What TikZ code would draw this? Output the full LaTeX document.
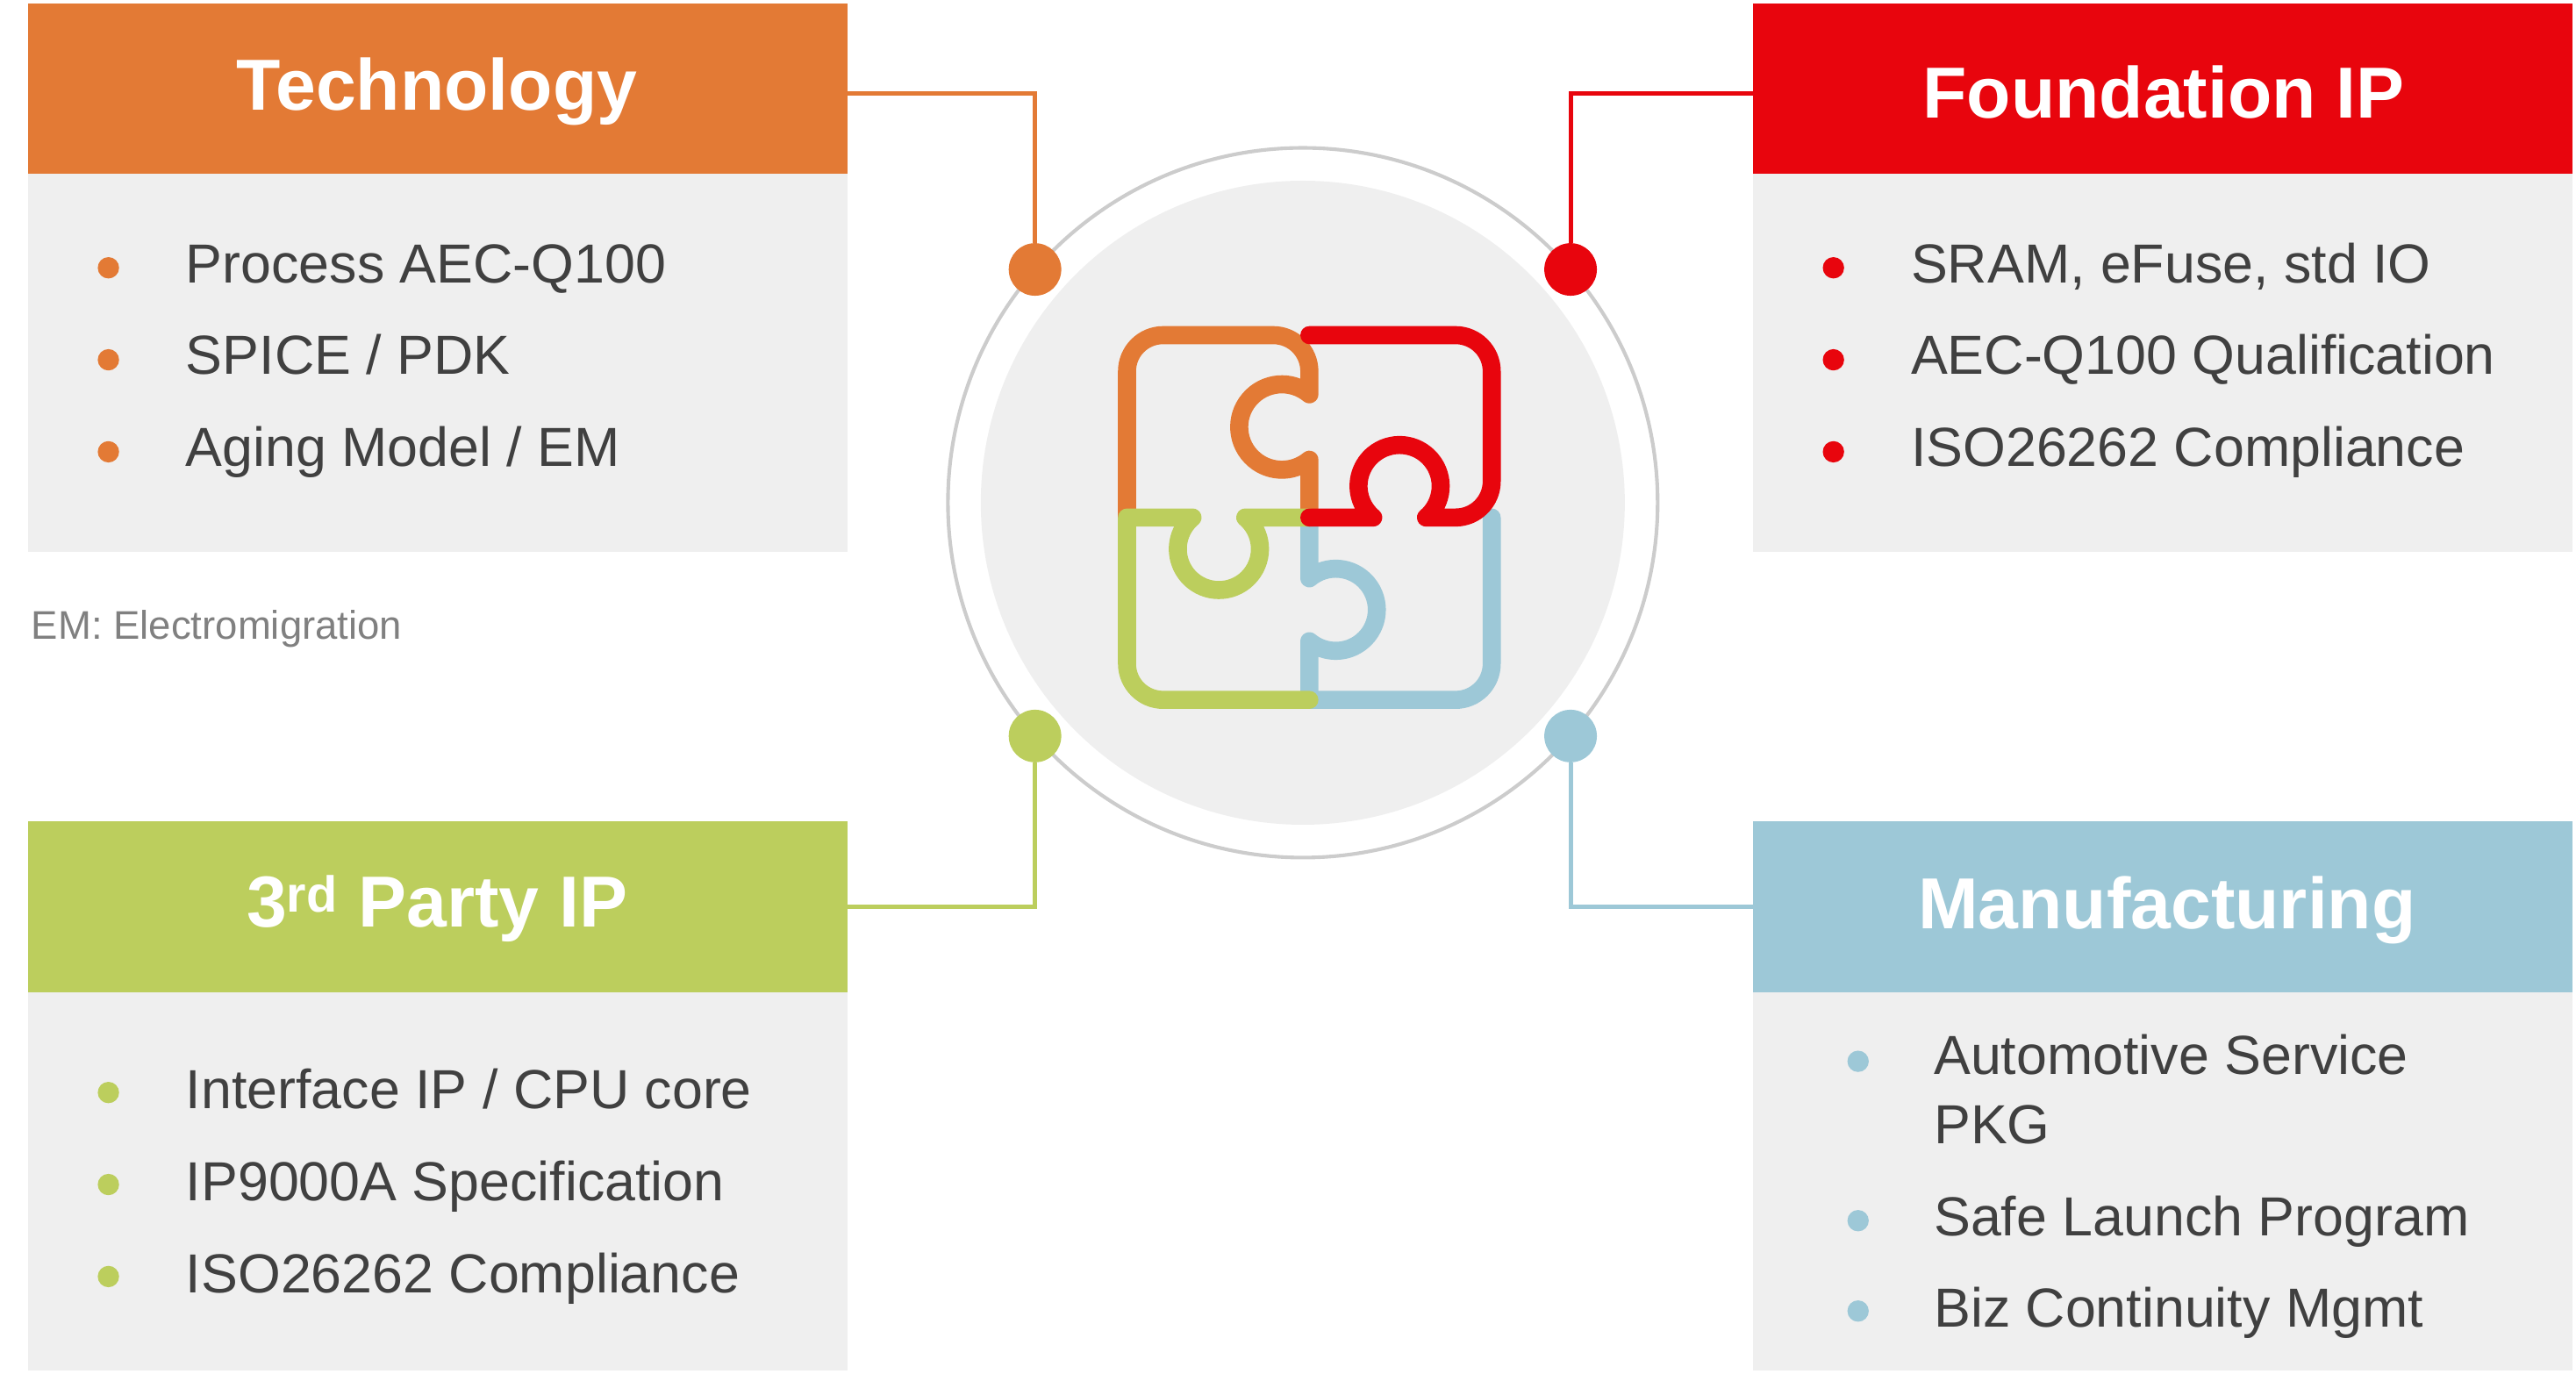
\documentclass[tikz,border=0pt]{standalone}
\usepackage{fontspec}
\setmainfont{Liberation Sans}
\definecolor{cO}{HTML}{E37A35}
\definecolor{cR}{HTML}{E8050D}
\definecolor{cG}{HTML}{BCCE5D}
\definecolor{cB}{HTML}{9DC8D7}
\definecolor{bodyg}{HTML}{EFEFEF}
\definecolor{txt}{HTML}{404040}
\definecolor{ring}{HTML}{CCCCCC}
\begin{document}
\begin{tikzpicture}[x=1pt,y=-1pt,
  hdr/.style={font=\fontsize{44}{48}\selectfont\bfseries,text=white},
  item/.style={anchor=base west,font=\fontsize{33.5}{37}\selectfont,text=txt,inner sep=0},
  conn/.style={line width=2.6pt},
  piece/.style={line width=11pt,line cap=round,line join=round},
  hub/.style={circle,minimum size=32pt,inner sep=0}]
\useasboundingbox (0,0) rectangle (1568,836);
% panels
\fill[cO] (17,2) rectangle (516,106);
\fill[bodyg] (17,106) rectangle (516,336);
\fill[cR] (1067,2) rectangle (1566,106);
\fill[bodyg] (1067,106) rectangle (1566,336);
\fill[cG] (17,500) rectangle (516,604);
\fill[bodyg] (17,604) rectangle (516,834);
\fill[cB] (1067,500) rectangle (1566,604);
\fill[bodyg] (1067,604) rectangle (1566,834);
\node[hdr] (ht) at (266,56) {Technology};
\node[hdr] (hf) at (1317,56) {Foundation IP};
\node[hdr] (hp) at (266,553) {3\textsuperscript{rd} Party IP};
\node[hdr] (hm) at (1319,554) {Manufacturing};
% circle
\draw[ring,line width=2.2pt] (793,306) circle (216);
\fill[bodyg] (793,306) circle (196);
% connectors
\coordinate (eT) at (516,57); \coordinate (eF) at (1067,57);
\coordinate (eP) at (516,552); \coordinate (eM) at (1067,552);
\node[hub,fill=cO] (dT) at (630,164) {};
\node[hub,fill=cR] (dF) at (956,164) {};
\node[hub,fill=cG] (dP) at (630,448) {};
\node[hub,fill=cB] (dM) at (956,448) {};
\draw[conn,cO] (eT) -| (dT);
\draw[conn,cR] (eF) -| (dF);
\draw[conn,cG] (eP) -| (dP);
\draw[conn,cB] (eM) -| (dM);
% items
\foreach \t [count=\i] in {Process AEC-Q100,SPICE / PDK,Aging Model / EM}{
  \fill[cO] (66,107+56*\i) circle (6.5);
  \node[item] (t\i) at (113,116+56*\i) {\t};}
\foreach \t [count=\i] in {{SRAM, eFuse, std IO},AEC-Q100 Qualification,ISO26262 Compliance}{
  \fill[cR] (1116,107+56*\i) circle (6.5);
  \node[item] (f\i) at (1163,116+56*\i) {\t};}
\foreach \t [count=\i] in {Interface IP / CPU core,IP9000A Specification,ISO26262 Compliance}{
  \fill[cG] (66,609+56*\i) circle (6.5);
  \node[item] (p\i) at (113,619+56*\i) {\t};}
\fill[cB] (1131,646) circle (6.5);
\node[item] (m1) at (1177,654) {Automotive Service};
\node[item] (m1b) at (1177,696) {PKG};
\fill[cB] (1131,743) circle (6.5);
\node[item] (m2) at (1177,752) {Safe Launch Program};
\fill[cB] (1131,798) circle (6.5);
\node[item] (m3) at (1177,808) {Biz Continuity Mgmt};
\node[anchor=base west,inner sep=0,font=\fontsize{24.3}{28}\selectfont,text=gray] (em) at (19,389) {EM: Electromigration};
% puzzle
\draw[piece,cB] (797,315) -- (797,352) arc[start angle=-130,end angle=130,radius=25] -- (797,426) {[rounded corners=22] -- (908,426) -- (908,315)};
\draw[piece,cO] {[rounded corners=22] (686,315) -- (686,204) -- (797,204)} -- (797,240) arc[start angle=-50,end angle=-310,radius=26] -- (797,315);
\draw[piece,cG] (797,315) -- (758,315) arc[start angle=-50,end angle=230,radius=25] -- (686,315) {[rounded corners=22] -- (686,426) -- (797,426)};
\draw[piece,cR] (797,204) {[rounded corners=22] -- (908,204) -- (908,315)} -- (868,315) arc[start angle=50,end angle=-230,radius=25] -- (797,315);
\end{tikzpicture}
\end{document}
